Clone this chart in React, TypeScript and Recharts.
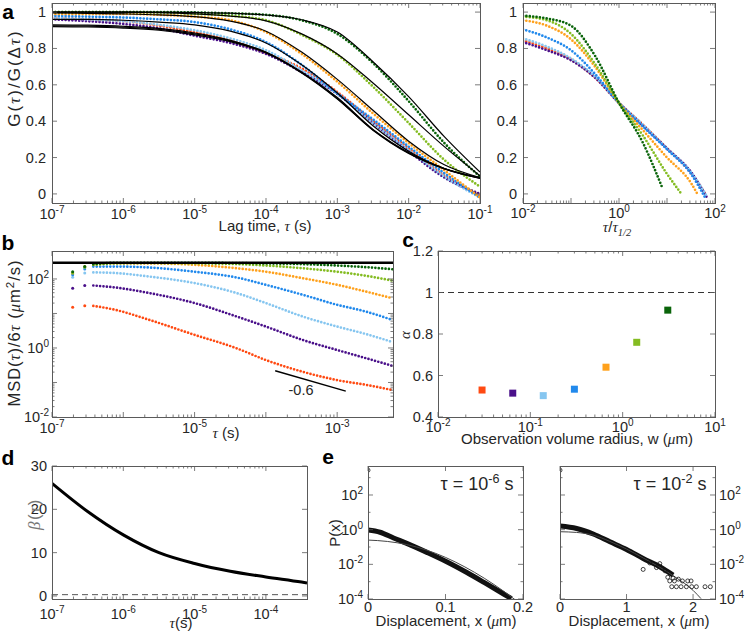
import React from 'react';
import { ComposedChart, Line, Scatter, XAxis, YAxis, ReferenceLine } from 'recharts';

const SANS = '"Liberation Sans", Arial, Helvetica, sans-serif';
const SERIF = '"Liberation Serif", "Times New Roman", serif';
const INK = '#262626';
const FRAME = '#5a5a5a';

// one colour per observation radius, smallest to largest
const seriesKeys = ['red', 'purple', 'lightBlue', 'blue', 'orange', 'lightGreen', 'darkGreen'];
const seriesColors = ['#ff4a12', '#4a108a', '#86c6f0', '#2189ec', '#ffa11c', '#84bc22', '#0a640a'];

// ---- a (left): G(tau)/G(dtau) vs lag time
const lagTime = [1e-7, 3.16e-7, 1e-6, 3.16e-6, 1e-5, 3.16e-5, 1e-4, 3.16e-4, 1e-3, 3.16e-3, 1e-2, 3.16e-2, 1e-1];
const gRed = [0.97, 0.96, 0.95, 0.925, 0.89, 0.845, 0.775, 0.69, 0.56, 0.4, 0.25, 0.1, -0.01];
const gPurple = [0.96, 0.95, 0.935, 0.91, 0.87, 0.83, 0.77, 0.67, 0.55, 0.39, 0.235, 0.09, 0.0];
const gLightBlue = [0.97, 0.96, 0.95, 0.93, 0.9, 0.855, 0.79, 0.68, 0.55, 0.39, 0.24, 0.095, -0.02];
const gBlue = [0.98, 0.975, 0.97, 0.96, 0.945, 0.905, 0.835, 0.71, 0.553, 0.41, 0.26, 0.114, -0.02];
const gOrange = [0.99, 0.99, 0.99, 0.985, 0.975, 0.955, 0.89, 0.77, 0.617, 0.443, 0.28, 0.13, -0.02];
const gLightGreen = [1.0, 1.0, 1.0, 0.998, 0.99, 0.98, 0.955, 0.875, 0.765, 0.59, 0.39, 0.187, 0.04];
const gDarkGreen = [1.0, 1.0, 1.0, 1.0, 0.998, 0.993, 0.985, 0.955, 0.88, 0.72, 0.51, 0.28, 0.095];

const fitRed = [0.93, 0.928, 0.922, 0.91, 0.885, 0.845, 0.78, 0.67, 0.53, 0.355, 0.228, 0.14, 0.09];
const fitPurple = [0.92, 0.918, 0.912, 0.9, 0.875, 0.838, 0.775, 0.665, 0.522, 0.35, 0.222, 0.138, 0.086];
const fitLightBlue = [0.925, 0.923, 0.917, 0.905, 0.88, 0.842, 0.778, 0.668, 0.525, 0.352, 0.225, 0.139, 0.088];
const fitBlue = [0.96, 0.96, 0.955, 0.945, 0.93, 0.895, 0.83, 0.71, 0.555, 0.375, 0.235, 0.14, 0.085];
const fitOrange = [0.995, 0.993, 0.99, 0.985, 0.975, 0.95, 0.895, 0.78, 0.63, 0.46, 0.29, 0.16, 0.09];
const fitLightGreen = [1.0, 1.0, 1.0, 0.997, 0.99, 0.978, 0.952, 0.88, 0.77, 0.61, 0.435, 0.26, 0.1];
const fitDarkGreen = [1.0, 1.0, 1.0, 1.0, 0.998, 0.994, 0.984, 0.958, 0.89, 0.727, 0.535, 0.315, 0.12];

// ---- a (right): same curves vs tau / tau_1/2
const ratioGrid = [0.01, 0.0316, 0.1, 0.316, 1, 3.16, 10, 31.6];
const nRed = [0.845, 0.8, 0.74, 0.64, 0.5, 0.38, 0.25, 0.115];
const nPurple = [0.835, 0.79, 0.735, 0.64, 0.5, 0.375, 0.25, 0.12];
const nLightBlue = [0.855, 0.81, 0.745, 0.645, 0.5, 0.38, 0.25, 0.12];
const nBlue = [0.905, 0.86, 0.79, 0.66, 0.5, 0.37, 0.245, 0.11];
const nOrange = [0.955, 0.925, 0.85, 0.7, 0.5, 0.35, 0.2, 0.06];
const nLightGreen = [0.975, 0.955, 0.88, 0.715, 0.5, 0.32, 0.11];
const nDarkGreen = [0.98, 0.965, 0.925, 0.76, 0.5, 0.28];
const nEndRatio = [66, 68, 70, 62, 45, 20, 7.8];
const nEndValue = [-0.01, -0.02, -0.02, -0.02, -0.01, 0.0, 0.04];

// ---- b: MSD/6tau vs tau
const bTau = [1.95e-7, 2.88e-7, 3.8e-7, 7.9e-7, 2.34e-6, 1e-5, 3.9e-5, 1e-4, 3.3e-4, 1e-3, 2.57e-3, 6e-3];
const mRed = [15.1, 16.6, 16.6, 12.6, 6.46, 2.4, 0.977, 0.447, 0.204, 0.117, 0.085, 0.06];
const mPurple = [53.7, 64.6, 64.6, 56.2, 38.9, 20.0, 8.13, 4.17, 1.7, 0.871, 0.501, 0.302];
const mLightBlue = [112, 148, 155, 148, 117, 75.9, 38.9, 20.0, 8.13, 4.17, 2.51, 1.48];
const mBlue = [132, 195, 229, 229, 214, 162, 110, 67.6, 34.7, 17.8, 11.2, 6.46];
const mOrange = [148, 229, 257, 282, 282, 257, 204, 162, 105, 67.6, 42.7, 27.5];
const mLightGreen = [148, 219, 257, 282, 288, 282, 269, 245, 204, 162, 123, 89.1];
const mDarkGreen = [162, 229, 269, 295, 295, 295, 288, 282, 269, 245, 219, 191];
const bFreeDiffusion = 295;
const slopeTau = [1.35e-4, 1.32e-3];
const slopeValue = [0.219, 0.0562];

// ---- c: anomalous exponent vs observation radius
const cRadius = [0.03, 0.0645, 0.138, 0.3, 0.66, 1.42, 3.08];
const cAlpha = [0.53, 0.515, 0.503, 0.534, 0.64, 0.76, 0.915];

// ---- d: beta(tau)
const dTau = [1e-7, 3.16e-7, 1e-6, 3.16e-6, 1e-5, 3.16e-5, 1e-4, 3.16e-4, 3.77e-4];
const dBeta = [26, 19.5, 14.1, 10.0, 7.5, 5.7, 4.4, 3.2, 3.0];
const dBaseline = 0.3;

// ---- e: displacement distributions
const dispShort = [0, 0.0155, 0.033, 0.05, 0.076, 0.1015, 0.127, 0.153, 0.175, 0.185];
const probShort = [0.955, 0.71, 0.33, 0.162, 0.049, 0.0141, 0.00347, 0.00074, 0.000195, 0.000105];
const fitDispShort = [0, 0.025, 0.05, 0.075, 0.1, 0.125, 0.15, 0.175, 0.19];
const fitProbShort = [0.251, 0.209, 0.138, 0.0676, 0.0251, 0.00708, 0.00158, 0.000282, 0.0000891];
const dispLong = [0, 0.25, 0.5, 0.75, 1.0, 1.25, 1.5, 1.7];
const probLong = [1.62, 1.17, 0.56, 0.2, 0.072, 0.0219, 0.00724, 0.0024];
const fitDispLong = [0, 0.25, 0.5, 0.75, 1.0, 1.25, 1.5, 1.75, 2.0, 2.12];
const fitProbLong = [0.76, 0.69, 0.48, 0.21, 0.076, 0.0234, 0.00676, 0.00166, 0.000316, 0.000105];
const tailDisp = [1.25, 1.35, 1.45, 1.5, 1.58, 1.62, 1.65, 1.7, 1.72, 1.78, 1.84, 1.92, 1.97, 1.68, 1.75, 1.82, 1.9, 1.98, 2.05, 2.18, 2.26];
const tailProb = [0.0051, 0.012, 0.0065, 0.011, 0.0042, 0.0018, 0.0011, 0.0016, 0.0011, 0.0014, 0.0011, 0.0011, 0.0011, 0.00051, 0.00051, 0.00051, 0.00051, 0.00051, 0.00051, 0.00051, 0.00051];
const outlierDisp = [0];
const outlierProb = [2700];

// ---------- helpers
const aLeftG = [gRed, gPurple, gLightBlue, gBlue, gOrange, gLightGreen, gDarkGreen];
const aLeftFit = [fitRed, fitPurple, fitLightBlue, fitBlue, fitOrange, fitLightGreen, fitDarkGreen];
const aLeftRows = lagTime.map((x, i) => {
  const row: any = { x };
  seriesKeys.forEach((k, s) => {
    row[k] = aLeftG[s][i];
    row['fit_' + k] = aLeftFit[s][i];
  });
  return row;
});

const aRightSeries = [nRed, nPurple, nLightBlue, nBlue, nOrange, nLightGreen, nDarkGreen].map((vals, s) => [
  ...vals.map((y, i) => ({ x: ratioGrid[i], y })),
  { x: nEndRatio[s], y: nEndValue[s] },
]);

const bSeries = [mRed, mPurple, mLightBlue, mBlue, mOrange, mLightGreen, mDarkGreen].map((vals) =>
  vals.map((y, i) => ({ x: bTau[i], y }))
);
const slopeRows = slopeTau.map((x, i) => ({ x, y: slopeValue[i] }));
const cRows = cRadius.map((x, i) => ({ x, y: cAlpha[i], color: seriesColors[i] }));
const dRows = dTau.map((x, i) => ({ x, y: dBeta[i] }));
const pairs = (xs: number[], ys: number[]) => xs.map((x, i) => ({ x, y: ys[i] }));

const isDecade = (v: number) => Math.abs(Math.log10(v) - Math.round(Math.log10(v))) < 1e-6;
const logTicks = (lo: number, hi: number, max: number) => {
  const out: number[] = [];
  for (let k = lo; k < hi; k++) for (let m = 1; m < 10; m++) out.push(m * Math.pow(10, k));
  out.push(Math.pow(10, hi));
  return out.filter((v) => v <= max * 1.0001);
};
const pow10 = (v: number) => (
  <>
    <tspan>10</tspan>
    <tspan dy={-6} fontSize={10}>{Math.round(Math.log10(v))}</tspan>
  </>
);
const powLabels = (exps: number[]) => (v: number) =>
  isDecade(v) && exps.includes(Math.round(Math.log10(v))) ? pow10(v) : null;
const plain = (v: number) => String(v);

type AxisSpec = {
  scale: 'log' | 'linear';
  domain: [number, number];
  ticks: number[];
  label: (v: number) => React.ReactNode;
  major: (v: number) => boolean;
  gap: number;
};

const PAD_L = 60;
const PAD_R = 60;
const PAD_T = 15;
const PAD_B = 40;

function bottomTick(h: number, ax: AxisSpec) {
  return (p: any) => {
    const v = p.payload.value;
    const len = ax.major(v) ? 5 : 2.5;
    const lab = ax.label(v);
    return (
      <g>
        <line x1={p.x} x2={p.x} y1={p.y} y2={p.y - len} stroke={FRAME} strokeWidth={0.8} />
        <line x1={p.x} x2={p.x} y1={p.y - h} y2={p.y - h + len} stroke={FRAME} strokeWidth={0.8} />
        {lab != null && (
          <text x={p.x} y={p.y + ax.gap} textAnchor="middle" fontFamily={SANS} fontSize={14.5} fill={INK}>
            {lab}
          </text>
        )}
      </g>
    );
  };
}

function sideTick(w: number, ax: AxisSpec, right: boolean) {
  return (p: any) => {
    const v = p.payload.value;
    const len = ax.major(v) ? 5 : 2.5;
    const lab = ax.label(v);
    const d = right ? -1 : 1;
    const far = p.x + d * w;
    return (
      <g>
        <line x1={p.x} x2={p.x + d * len} y1={p.y} y2={p.y} stroke={FRAME} strokeWidth={0.8} />
        <line x1={far} x2={far - d * len} y1={p.y} y2={p.y} stroke={FRAME} strokeWidth={0.8} />
        {lab != null && (
          <text
            x={right ? p.x + ax.gap : p.x - ax.gap}
            y={p.y}
            dy={5}
            textAnchor={right ? 'start' : 'end'}
            fontFamily={SANS}
            fontSize={14.5}
            fill={INK}
          >
            {lab}
          </text>
        )}
      </g>
    );
  };
}

function Plot({ box, xs, ys, right = false, data, children }: any) {
  const [x0, y0, x1, y1] = box;
  const w = x1 - x0;
  const h = y1 - y0;
  return (
    <>
      <div style={{ position: 'absolute', left: x0 - PAD_L, top: y0 - PAD_T }}>
        <ComposedChart
          width={w + PAD_L + PAD_R}
          height={h + PAD_T + PAD_B}
          data={data}
          margin={{ top: PAD_T, right: right ? 0 : PAD_R, bottom: 0, left: right ? PAD_L : 0 }}
        >
          <XAxis
            dataKey="x"
            type="number"
            scale={xs.scale}
            domain={xs.domain}
            ticks={xs.ticks}
            interval={0}
            allowDataOverflow
            axisLine={false}
            tickLine={false}
            tickSize={0}
            tickMargin={0}
            height={PAD_B}
            tick={bottomTick(h, xs)}
          />
          <YAxis
            type="number"
            orientation={right ? 'right' : 'left'}
            scale={ys.scale}
            domain={ys.domain}
            ticks={ys.ticks}
            interval={0}
            allowDataOverflow
            axisLine={false}
            tickLine={false}
            tickSize={0}
            tickMargin={0}
            width={right ? PAD_R : PAD_L}
            tick={sideTick(w, ys, right)}
          />
          {children}
        </ComposedChart>
      </div>
      <div
        style={{
          position: 'absolute',
          left: x0,
          top: y0,
          width: w + 1,
          height: h + 1,
          border: `1px solid ${FRAME}`,
          boxSizing: 'border-box',
          pointerEvents: 'none',
        }}
      />
    </>
  );
}

const dotted = (color: string) => ({
  stroke: color,
  strokeWidth: 2.7,
  strokeDasharray: '0 3.4',
  strokeLinecap: 'round' as const,
  dot: false,
  type: 'monotone' as const,
  isAnimationActive: false,
});

const Txt = ({ x, y, rot = false, size = 15, bold = false, spacing = 0, color, children }: any) => (
  <div
    style={{
      position: 'absolute',
      left: x,
      top: y,
      width: 'max-content',
      transform: `translate(-50%, -50%)${rot ? ' rotate(-90deg)' : ''}`,
      fontSize: size,
      fontWeight: bold ? 700 : 400,
      fontFamily: SANS,
      letterSpacing: spacing,
      whiteSpace: 'nowrap',
      lineHeight: 1,
      color: color || (bold ? '#000' : INK),
    }}
  >
    {children}
  </div>
);
const Tau = ({ c = 'τ' }: any) => <i style={{ fontFamily: SERIF }}>{c}</i>;
const Sup = ({ children }: any) => (
  <span style={{ fontSize: '0.7em', position: 'relative', top: '-0.55em' }}>{children}</span>
);
const Sub = ({ children }: any) => (
  <span style={{ fontSize: '0.7em', position: 'relative', top: '0.35em' }}>{children}</span>
);

const unitG: AxisSpec = { scale: 'linear', domain: [-0.05, 1.05], ticks: [0, 0.2, 0.4, 0.6, 0.8, 1], label: plain, major: () => true, gap: 6 };
const probAxis: AxisSpec = {
  scale: 'log',
  domain: [1e-4, 4700],
  ticks: [1e-4, 1e-3, 1e-2, 1e-1, 1, 10, 100, 1000],
  label: powLabels([-4, -2, 0, 2]),
  major: (v) => [-4, -2, 0, 2].includes(Math.round(Math.log10(v))),
  gap: 5,
};

const circle = (p: any) => <circle cx={p.cx} cy={p.cy} r={2} fill="none" stroke="#111" strokeWidth={0.8} />;

export default function App() {
  return (
    <div style={{ position: 'absolute', left: 0, top: 0, width: 747, height: 636, overflow: 'hidden', background: '#fff' }}>
      {/* a, left */}
      <Plot
        box={[52, 3, 480, 203]}
        data={aLeftRows}
        xs={{ scale: 'log', domain: [1e-7, 1e-1], ticks: logTicks(-7, -1, 1e-1), label: powLabels([-7, -6, -5, -4, -3, -2, -1]), major: isDecade, gap: 16 }}
        ys={unitG}
      >
        {seriesKeys.map((k, i) => (
          <Line key={k} dataKey={k} {...dotted(seriesColors[i])} />
        ))}
        {seriesKeys.map((k) => (
          <Line key={'f' + k} dataKey={'fit_' + k} stroke="#000" strokeWidth={1.2} dot={false} type="monotone" isAnimationActive={false} />
        ))}
      </Plot>

      {/* a, right */}
      <Plot
        box={[523, 3, 715, 203]}
        xs={{ scale: 'log', domain: [1e-2, 1e2], ticks: logTicks(-2, 2, 1e2), label: powLabels([-2, 0, 2]), major: isDecade, gap: 15 }}
        ys={unitG}
      >
        {aRightSeries.map((rows, i) => (
          <Line key={i} data={rows} dataKey="y" {...dotted(seriesColors[i])} />
        ))}
      </Plot>

      {/* b */}
      <Plot
        box={[52, 251, 393, 417]}
        xs={{ scale: 'log', domain: [1e-7, 6.07e-3], ticks: logTicks(-7, -3, 6.07e-3), label: powLabels([-7, -5, -3]), major: isDecade, gap: 16 }}
        ys={{ scale: 'log', domain: [0.01, 646], ticks: logTicks(-2, 2, 646), label: powLabels([-2, 0, 2]), major: isDecade, gap: 3 }}
      >
        {bSeries.map((rows, i) => (
          <Line key={'l' + i} data={rows.slice(2)} dataKey="y" {...dotted(seriesColors[i])} />
        ))}
        {bSeries.map((rows, i) => (
          <Scatter
            key={'s' + i}
            data={rows.slice(0, 2)}
            dataKey="y"
            isAnimationActive={false}
            shape={(p: any) => <circle cx={p.cx} cy={p.cy} r={1.5} fill={seriesColors[i]} />}
          />
        ))}
        <ReferenceLine y={bFreeDiffusion} stroke="#000" strokeWidth={2.5} />
        <Line data={slopeRows} dataKey="y" stroke="#000" strokeWidth={1.4} dot={false} type="linear" isAnimationActive={false} />
      </Plot>

      {/* c */}
      <Plot
        box={[438, 251, 715, 417]}
        xs={{ scale: 'log', domain: [1e-2, 1e1], ticks: logTicks(-2, 1, 1e1), label: powLabels([-2, -1, 0, 1]), major: isDecade, gap: 15 }}
        ys={{ scale: 'linear', domain: [0.4, 1.2], ticks: [0.4, 0.6, 0.8, 1, 1.2], label: plain, major: () => true, gap: 5 }}
      >
        <ReferenceLine y={1} stroke="#333" strokeDasharray="6 4" strokeWidth={1} />
        <Scatter
          data={cRows}
          dataKey="y"
          isAnimationActive={false}
          shape={(p: any) => <rect x={p.cx - 3.5} y={p.cy - 3.5} width={7} height={7} fill={p.payload.color} />}
        />
      </Plot>

      {/* d */}
      <Plot
        box={[52, 466, 307, 599]}
        xs={{ scale: 'log', domain: [1e-7, 3.77e-4], ticks: logTicks(-7, -4, 3.77e-4), label: powLabels([-7, -6, -5, -4]), major: isDecade, gap: 20 }}
        ys={{ scale: 'linear', domain: [-0.7, 30], ticks: [0, 10, 20, 30], label: plain, major: () => true, gap: 5 }}
      >
        <ReferenceLine y={dBaseline} stroke="#555" strokeDasharray="6 4" strokeWidth={1} />
        <Line data={dRows} dataKey="y" stroke="#000" strokeWidth={3} dot={false} type="monotone" isAnimationActive={false} />
      </Plot>

      {/* e, left */}
      <Plot
        box={[368, 466, 523, 599]}
        xs={{ scale: 'linear', domain: [0, 0.2], ticks: [0, 0.1, 0.2], label: plain, major: () => true, gap: 13 }}
        ys={probAxis}
      >
        <Line data={pairs(dispShort, probShort)} dataKey="y" stroke="#111" strokeWidth={5} dot={false} type="monotone" isAnimationActive={false} />
        <Line data={pairs(fitDispShort, fitProbShort)} dataKey="y" stroke="#444" strokeWidth={1} dot={false} type="monotone" isAnimationActive={false} />
        <Scatter data={pairs(outlierDisp, outlierProb)} dataKey="y" isAnimationActive={false} shape={circle} />
      </Plot>

      {/* e, right */}
      <Plot
        box={[560, 466, 715, 599]}
        right
        xs={{ scale: 'linear', domain: [0, 2.33], ticks: [0, 1, 2], label: plain, major: () => true, gap: 13 }}
        ys={{ ...probAxis, gap: 4 }}
      >
        <Line data={pairs(dispLong, probLong)} dataKey="y" stroke="#111" strokeWidth={5} dot={false} type="monotone" isAnimationActive={false} />
        <Line data={pairs(fitDispLong, fitProbLong)} dataKey="y" stroke="#444" strokeWidth={1} dot={false} type="monotone" isAnimationActive={false} />
        <Scatter data={pairs(tailDisp, tailProb)} dataKey="y" isAnimationActive={false} shape={circle} />
        <Scatter data={pairs(outlierDisp, outlierProb)} dataKey="y" isAnimationActive={false} shape={circle} />
      </Plot>

      {/* panel letters */}
      <Txt x={8} y={11} size={21} bold>a</Txt>
      <Txt x={8} y={242} size={21} bold>b</Txt>
      <Txt x={408} y={239} size={21} bold>c</Txt>
      <Txt x={8} y={457} size={21} bold>d</Txt>
      <Txt x={328} y={456} size={21} bold>e</Txt>

      {/* axis labels */}
      <Txt x={14} y={78} rot size={17} spacing={2}>
        G(<Tau />)/G(Δ<Tau />)
      </Txt>
      <Txt x={265} y={226}>
        Lag time, <Tau /> (s)
      </Txt>
      <Txt x={617} y={227}>
        <Tau />/<Tau />
        <Sub>
          <i style={{ fontFamily: SERIF }}>1/2</i>
        </Sub>
      </Txt>
      <Txt x={15} y={333} rot size={16.5} spacing={1}>
        MSD(<Tau />)/6<Tau /> (<Tau c="μ" />m<Sup>2</Sup>/s)
      </Txt>
      <Txt x={226} y={433}>
        <Tau /> (s)
      </Txt>
      <Txt x={301} y={390} size={14.5}>-0.6</Txt>
      <Txt x={405} y={335} rot>
        <Tau c="α" />
      </Txt>
      <Txt x={577} y={439}>
        Observation volume radius, w (<Tau c="μ" />m)
      </Txt>
      <Txt x={34} y={514} rot size={17} spacing={1.5} color="#777">
        <Tau c="β" />(<Tau />)
      </Txt>
      <Txt x={181} y={623}>
        <Tau />(s)
      </Txt>
      <Txt x={334} y={533} rot>
        P(x)
      </Txt>
      <Txt x={446} y={621}>
        Displacement, x (<Tau c="μ" />m)
      </Txt>
      <Txt x={639} y={621}>
        Displacement, x (<Tau c="μ" />m)
      </Txt>
      <Txt x={477} y={484} size={18}>
        τ = 10<Sup>-6</Sup> s
      </Txt>
      <Txt x={670} y={484} size={18}>
        τ = 10<Sup>-2</Sup> s
      </Txt>
    </div>
  );
}
